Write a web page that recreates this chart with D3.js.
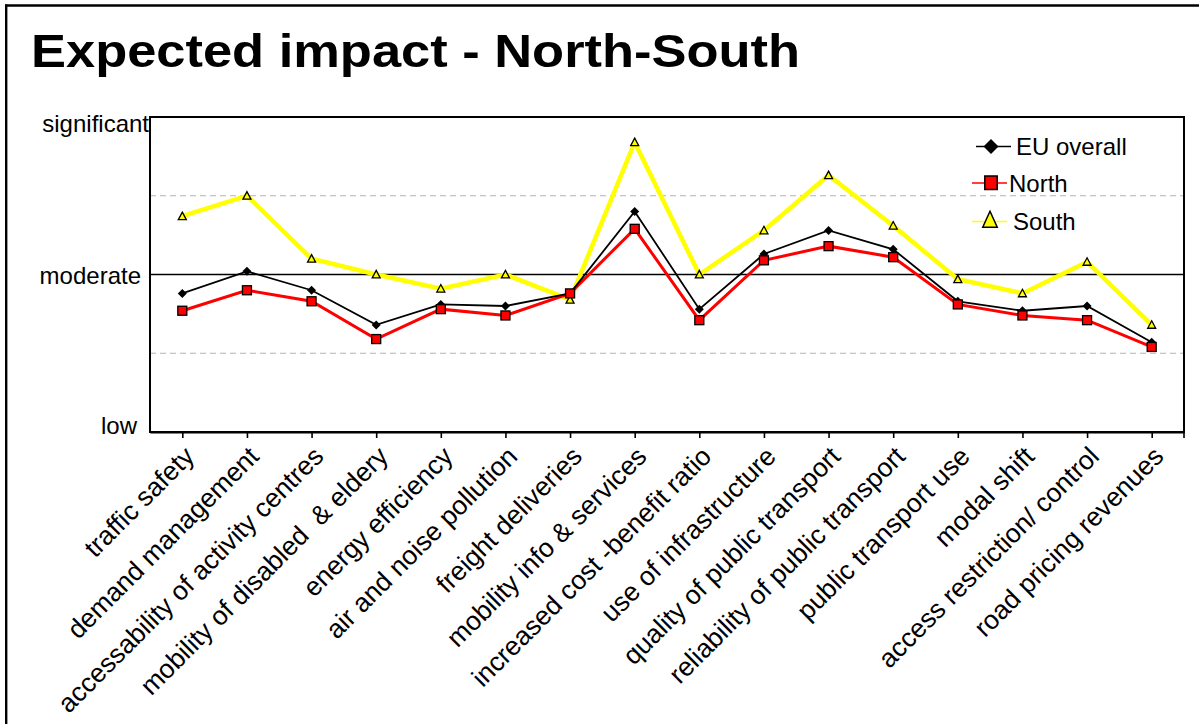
<!DOCTYPE html>
<html>
<head>
<meta charset="utf-8">
<script src="https://cdn.jsdelivr.net/npm/d3@7"></script>
<style>
  html, body { margin: 0; padding: 0; background: #fff; }
  svg { display: block; font-family: "Liberation Sans", Arial, sans-serif; }
</style>
</head>
<body>
<svg id="chart" width="1199" height="724"></svg>
<script>
// Impact categories along the horizontal axis
const categories = [
  "traffic safety",
  "demand management",
  "accessability of activity centres",
  "mobility of disabled  & eldery",
  "energy efficiency",
  "air and noise pollution",
  "freight deliveries",
  "mobility info & services",
  "increased cost -benefit ratio",
  "use of infrastructure",
  "quality of public transport",
  "reliability of public transport",
  "public transport use",
  "modal shift",
  "access restriction/ control",
  "road pricing revenues"
];

// Mean expected impact on a 1 (low) .. 3 (significant) scale
const euOverall = [1.88, 2.02, 1.90, 1.68, 1.81, 1.80, 1.88, 2.40, 1.78, 2.13, 2.28, 2.16, 1.83, 1.77, 1.80, 1.57];
const north     = [1.77, 1.90, 1.83, 1.59, 1.78, 1.74, 1.88, 2.29, 1.71, 2.09, 2.18, 2.11, 1.81, 1.74, 1.71, 1.54];
const south     = [2.37, 2.50, 2.10, 2.00, 1.91, 2.00, 1.84, 2.84, 2.00, 2.28, 2.63, 2.31, 1.97, 1.88, 2.08, 1.68];

// Level axis
const levelValues = [1, 2, 3];
const levelLabels = ["low", "moderate", "significant"];
const gridValues = [1.5, 2.5];

const seriesNames = ["EU overall", "North", "South"];

const svg = d3.select("#chart");
const W = 1199, H = 724;
const plot = { left: 150, right: 1184, top: 117, bottom: 432 };

// Slide frame (top and left rules)
svg.append("line").attr("x1", 5).attr("x2", W).attr("y1", 5.5).attr("y2", 5.5)
  .attr("stroke", "#000").attr("stroke-width", 2.6);
svg.append("line").attr("x1", 6.2).attr("x2", 6.2).attr("y1", 4.5).attr("y2", H)
  .attr("stroke", "#000").attr("stroke-width", 2.4);

// Title
svg.append("text")
  .attr("x", 31).attr("y", 67)
  .attr("font-size", 46).attr("font-weight", "bold")
  .attr("textLength", 769).attr("lengthAdjust", "spacingAndGlyphs")
  .text("Expected impact - North-South");

const x = d3.scalePoint().domain(categories).range([plot.left, plot.right]).padding(0.5);
const y = d3.scaleLinear().domain([1, 3]).range([plot.bottom, plot.top]);

// Dashed gridlines
svg.append("g").selectAll("line").data(gridValues).join("line")
  .attr("x1", plot.left).attr("x2", plot.right)
  .attr("y1", d => y(d)).attr("y2", d => y(d))
  .attr("stroke", "#b4b4b4").attr("stroke-width", 1.2).attr("stroke-dasharray", "6,4");

// Solid reference line at "moderate"
svg.append("line")
  .attr("x1", plot.left).attr("x2", plot.right)
  .attr("y1", y(2)).attr("y2", y(2))
  .attr("stroke", "#000").attr("stroke-width", 1.5);

// Plot frame
svg.append("rect")
  .attr("x", plot.left).attr("y", plot.top)
  .attr("width", plot.right - plot.left).attr("height", plot.bottom - plot.top)
  .attr("fill", "none").attr("stroke", "#000").attr("stroke-width", 2);

// Horizontal axis with rotated category labels
const xAxis = svg.append("g")
  .attr("transform", `translate(0,${plot.bottom})`)
  .call(d3.axisBottom(x).tickSize(6).tickSizeOuter(0));
xAxis.select(".domain").attr("stroke", "#000").attr("stroke-width", 2);
xAxis.selectAll(".tick line").attr("stroke", "#000").attr("stroke-width", 1.6);
xAxis.append("line")
  .attr("x1", plot.right).attr("x2", plot.right).attr("y1", 0).attr("y2", 6)
  .attr("stroke", "#000").attr("stroke-width", 1.6);
xAxis.selectAll(".tick text")
  .attr("font-size", 26.5).attr("font-family", "Liberation Sans, Arial, sans-serif")
  .attr("fill", "#000")
  .attr("text-anchor", "end")
  .attr("dy", null)
  .attr("y", null)
  .style("white-space", "pre")
  .attr("transform", "translate(13,26) rotate(-45)");

// Vertical level labels
const yAxis = svg.append("g")
  .attr("transform", `translate(${plot.left},0)`)
  .call(d3.axisLeft(y).tickValues(levelValues)
    .tickFormat(d => levelLabels[levelValues.indexOf(d)]).tickSize(0));
yAxis.select(".domain").remove();
const labelShift = { 1: [-12, -7], 2: [-8, 0], 3: [0, 6] };
yAxis.selectAll(".tick text")
  .attr("font-size", 24).attr("font-family", "Liberation Sans, Arial, sans-serif")
  .attr("fill", "#000")
  .attr("x", d => -1 + labelShift[d][0])
  .attr("dy", d => (labelShift[d][1] + 8.5) + "px");

// Series lines
const line = d3.line().x((d, i) => x(categories[i])).y(d => y(d));
const lineStyles = [
  { data: south, color: "#ffff00", width: 4.5 },
  { data: north, color: "#ff0000", width: 3 },
  { data: euOverall, color: "#000000", width: 1.8 }
];
svg.append("g").selectAll("path").data(lineStyles).join("path")
  .attr("d", s => line(s.data))
  .attr("fill", "none")
  .attr("stroke", s => s.color)
  .attr("stroke-width", s => s.width)
  .attr("stroke-linejoin", "miter");

// Marker shapes
const diamond = r => `M0,${-r}L${r},0L0,${r}L${-r},0Z`;
const triangle = (w, h) => `M0,${-h * 0.55}L${w / 2},${h * 0.45}L${-w / 2},${h * 0.45}Z`;

// EU markers
svg.append("g").selectAll("path").data(euOverall).join("path")
  .attr("d", diamond(4.5))
  .attr("transform", (d, i) => `translate(${x(categories[i])},${y(d)})`)
  .attr("fill", "#000");

// South markers
svg.append("g").selectAll("path").data(south).join("path")
  .attr("d", triangle(8, 7.5))
  .attr("transform", (d, i) => `translate(${x(categories[i])},${y(d)})`)
  .attr("fill", "#ffff00").attr("stroke", "#000").attr("stroke-width", 1.3);

// North markers
svg.append("g").selectAll("rect").data(north).join("rect")
  .attr("x", (d, i) => x(categories[i]) - 4.5)
  .attr("y", d => y(d) - 4.5)
  .attr("width", 9).attr("height", 9)
  .attr("fill", "#ff0000").attr("stroke", "#000").attr("stroke-width", 1.3);

// Legend
const legend = svg.append("g");
const legendRows = [
  { name: seriesNames[0], color: "#000", ly: 146.5, x1: 976, x2: 1011, mx: 991, tx: 1016 },
  { name: seriesNames[1], color: "#ff0000", ly: 183, x1: 972, x2: 1007, mx: 991, tx: 1009 },
  { name: seriesNames[2], color: "#ffff00", ly: 221.5, x1: 972, x2: 1007, mx: 990, tx: 1013 }
];
legend.selectAll("line").data(legendRows).join("line")
  .attr("x1", d => d.x1).attr("x2", d => d.x2)
  .attr("y1", d => d.ly).attr("y2", d => d.ly)
  .attr("stroke", d => d.color).attr("stroke-width", 1.6);
legend.append("path").attr("d", diamond(7.5))
  .attr("transform", `translate(${legendRows[0].mx},${legendRows[0].ly})`).attr("fill", "#000");
legend.append("rect")
  .attr("x", legendRows[1].mx - 6.2).attr("y", legendRows[1].ly - 7)
  .attr("width", 12.4).attr("height", 13.5)
  .attr("fill", "#ff0000").attr("stroke", "#000").attr("stroke-width", 1.5);
legend.append("path").attr("d", triangle(14.5, 16))
  .attr("transform", `translate(${legendRows[2].mx},${legendRows[2].ly - 1.5})`)
  .attr("fill", "#ffff00").attr("stroke", "#000").attr("stroke-width", 1.5);
legend.selectAll("text").data(legendRows).join("text")
  .attr("x", d => d.tx).attr("y", d => d.ly + 8.5)
  .attr("font-size", 24).attr("fill", "#000")
  .text(d => d.name);
</script>
</body>
</html>
